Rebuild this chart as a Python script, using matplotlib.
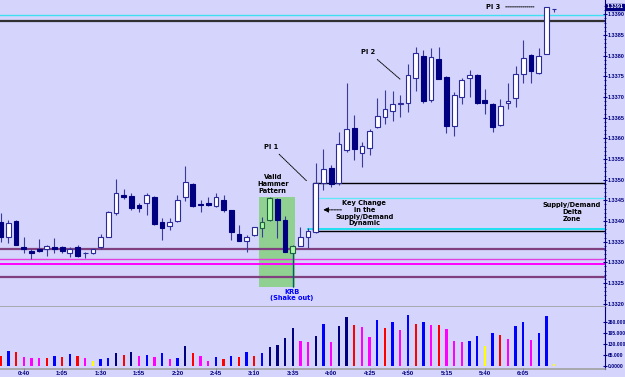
import numpy as np
import matplotlib
matplotlib.use("Agg")
import matplotlib.pyplot as plt
import matplotlib.transforms as mtransforms
from matplotlib.patches import Rectangle

# 5 minute bars, 0:25 .. 6:25
start_minute = 25
n_bars = 73
bar_times = ["{}:{:02d}".format((start_minute + 5 * i) // 60, (start_minute + 5 * i) % 60) for i in range(n_bars)]
tick_labels = ["0:40", "1:05", "1:30", "1:55", "2:20", "2:45", "3:10", "3:35",
               "4:00", "4:25", "4:50", "5:15", "5:40", "6:05"]

opens = [
    1.33397, 1.33362, 1.33400, 1.33336, 1.33327, 1.33332, 1.33333, 1.33336, 1.33336, 1.33322,
    1.33336, 1.33322, 1.33322, 1.33338, 1.33362, 1.33420, 1.33463, 1.33460, 1.33439, 1.33443,
    1.33458, 1.33397, 1.33388, 1.33401, 1.33457, 1.33490, 1.33440, 1.33444, 1.33437, 1.33452,
    1.33427, 1.33368, 1.33352, 1.33365, 1.33382, 1.33402, 1.33453, 1.33402, 1.33322, 1.33340,
    1.33361, 1.33374, 1.33491, 1.33529, 1.33491, 1.33572, 1.33626, 1.33564, 1.33576, 1.33628,
    1.33651, 1.33667, 1.33683, 1.33685, 1.33745, 1.33799, 1.33693, 1.33791, 1.33749, 1.33630,
    1.33701, 1.33745, 1.33753, 1.33693, 1.33683, 1.33632, 1.33685, 1.33697, 1.33756, 1.33802,
    1.33759, 1.33804, 1.33912]
closes = [
    1.33362, 1.33396, 1.33342, 1.33332, 1.33322, 1.33327, 1.33340, 1.33333, 1.33327, 1.33332,
    1.33316, 1.33323, 1.33332, 1.33362, 1.33423, 1.33468, 1.33457, 1.33432, 1.33432, 1.33463,
    1.33392, 1.33382, 1.33397, 1.33452, 1.33494, 1.33437, 1.33439, 1.33439, 1.33457, 1.33427,
    1.33373, 1.33352, 1.33361, 1.33385, 1.33398, 1.33456, 1.33402, 1.33326, 1.33340, 1.33362,
    1.33376, 1.33491, 1.33525, 1.33490, 1.33586, 1.33622, 1.33573, 1.33582, 1.33618, 1.33654,
    1.33672, 1.33683, 1.33685, 1.33753, 1.33806, 1.33691, 1.33797, 1.33743, 1.33630, 1.33706,
    1.33741, 1.33753, 1.33685, 1.33685, 1.33628, 1.33679, 1.33691, 1.33755, 1.33794, 1.33764,
    1.33800, 1.33917, 1.33912]
highs = [
    1.33419, 1.33402, 1.33402, 1.33362, 1.33332, 1.33357, 1.33342, 1.33358, 1.33339, 1.33338,
    1.33341, 1.33324, 1.33333, 1.33368, 1.33424, 1.33502, 1.33477, 1.33467, 1.33444, 1.33467,
    1.33460, 1.33407, 1.33407, 1.33463, 1.33534, 1.33492, 1.33452, 1.33457, 1.33468, 1.33464,
    1.33427, 1.33390, 1.33366, 1.33385, 1.33410, 1.33457, 1.33455, 1.33413, 1.33342, 1.33385,
    1.33382, 1.33540, 1.33573, 1.33535, 1.33616, 1.33735, 1.33656, 1.33592, 1.33622, 1.33697,
    1.33717, 1.33714, 1.33705, 1.33779, 1.33822, 1.33814, 1.33818, 1.33822, 1.33750, 1.33713,
    1.33747, 1.33765, 1.33755, 1.33719, 1.33685, 1.33694, 1.33733, 1.33776, 1.33838, 1.33803,
    1.33818, 1.33918, 1.33912]
lows = [
    1.33350, 1.33348, 1.33342, 1.33323, 1.33307, 1.33325, 1.33315, 1.33323, 1.33323, 1.33312,
    1.33312, 1.33310, 1.33321, 1.33332, 1.33361, 1.33414, 1.33453, 1.33427, 1.33421, 1.33414,
    1.33390, 1.33354, 1.33378, 1.33397, 1.33449, 1.33435, 1.33423, 1.33437, 1.33435, 1.33423,
    1.33354, 1.33352, 1.33326, 1.33364, 1.33361, 1.33401, 1.33358, 1.33325, 1.33241, 1.33339,
    1.33334, 1.33370, 1.33475, 1.33483, 1.33487, 1.33568, 1.33548, 1.33531, 1.33560, 1.33624,
    1.33635, 1.33643, 1.33651, 1.33664, 1.33715, 1.33685, 1.33689, 1.33743, 1.33612, 1.33606,
    1.33682, 1.33701, 1.33683, 1.33659, 1.33616, 1.33630, 1.33670, 1.33675, 1.33735, 1.33735,
    1.33756, 1.33803, 1.33905]

volumes = [
    61, 89, 83, 53, 49, 45, 45, 61, 53, 69,
    59, 45, 30, 39, 49, 79, 67, 81, 59, 65,
    53, 79, 43, 45, 118, 79, 61, 31, 55, 39,
    59, 53, 83, 61, 75, 112, 126, 165, 226, 148,
    144, 177, 248, 144, 236, 288, 242, 232, 169, 272,
    226, 260, 215, 303, 246, 260, 242, 242, 219, 146,
    142, 148, 177, 116, 193, 181, 160, 238, 260, 154,
    193, 295, 12]
vol_codes = ("RBRMMMRBRB" "RMYBBNRNMB" "MBMBNRMMBR" "BRBRBNNNNM"
             "MNBMNNRMMB" "RBMBRBMRMM" "MBBYBRMBBM" "BBY")
vol_palette = {"R": "#ff0000", "B": "#0000ff", "N": "#000080", "M": "#ff00ff", "Y": "#ffff00"}

# levels drawn across the whole chart
full_levels = [1.33898, 1.33883, 1.33332, 1.33307, 1.33295, 1.33264]
full_colors = ["#40e0f0", "#303030", "#804080", "#e040e0", "#ff00ff", "#804080"]
full_widths = [1.0, 1.6, 1.6, 1.0, 1.4, 1.6]

# supply/demand delta zone
zone_top = 1.33491
zone_bottom = 1.33375
zone_inner = [1.33456, 1.33381]
zone_start = 40.64
hammer_bars = (34, 38)
hammer_low, hammer_high = 1.33241, 1.33457
last_price_label = "1.3391"
price_ticks = np.arange(1.3320, 1.33901, 0.0005)
vol_ticks = [0, 65, 130, 195, 260]
vol_tick_labels = ["0.0000", "65.000", "130.000", "195.000", "260.000"]

BG = "#d4d4fc"
NAVY = "#000080"
AXFONT = "Liberation Sans"

fig = plt.figure(figsize=(6.25, 3.77), dpi=100)
fig.patch.set_facecolor(BG)
ax = fig.add_axes([0, 1 - 307 / 377, 605 / 625, 307 / 377])
axv = fig.add_axes([0, 1 - 369 / 377, 605 / 625, 62 / 377], sharex=ax)
for a in (ax, axv):
    a.set_facecolor(BG)
    a.spines["left"].set_visible(False)
    a.spines["top"].set_visible(False)
    a.spines["right"].set_color(NAVY)
    a.spines["bottom"].set_color("#a0a0a0")
    a.spines["bottom"].set_linewidth(1.2)

x = np.arange(n_bars)
xmax = 78.63
ax.set_xlim(-0.09, xmax)
ax.set_ylim(1.33192, 1.339346)

# hammer highlight box
ax.add_patch(Rectangle((hammer_bars[0] - 0.35, hammer_low), hammer_bars[1] - hammer_bars[0] + 0.7,
                       hammer_high - hammer_low, facecolor="#90d090", edgecolor="none", zorder=1))

for lvl, c, lw in zip(full_levels, full_colors, full_widths):
    ax.axhline(lvl, color=c, lw=lw, zorder=2)

ax.hlines(zone_inner[0], zone_start + 0.6, xmax, color="#60e8f8", lw=0.9, zorder=2)
ax.hlines(zone_inner[1], zone_start - 0.8, xmax, color="#20e0f0", lw=1.4, zorder=2)
ax.hlines([zone_top, zone_bottom], zone_start, xmax, color="black", lw=1.0, zorder=3)
ax.vlines(zone_start, zone_bottom, zone_top, color="black", lw=1.0, zorder=3)

# candles
o = np.array(opens)
c = np.array(closes)
up = c >= o
in_box = (x >= hammer_bars[0]) & (x <= hammer_bars[1])
ax.vlines(x, lows, highs, color="#3a3a9a", lw=0.8, zorder=4)
body_bottom = np.minimum(o, c)
body_height = np.maximum(np.abs(c - o), 0.000015)
face = np.where(up, np.where(in_box, "#a8f8a8", "white"), NAVY)
edge = np.where(up, np.where(in_box, "#206040", "#2a2a9a"), NAVY)
ax.bar(x, body_height, bottom=body_bottom, width=0.62, color=face, edgecolor=edge,
       linewidth=0.8, zorder=5)
# the KRB tail
ax.vlines(hammer_bars[1], lows[hammer_bars[1]], body_bottom[hammer_bars[1]], color="#006060", lw=0.9, zorder=6)

# price axis
ax.yaxis.tick_right()
ax.set_yticks(price_ticks)
ax.set_yticklabels(["{:.4f}".format(v) for v in price_ticks])
ax.set_yticks(np.arange(1.3320, 1.3393, 0.0001), minor=True)
ax.tick_params(axis="y", which="major", direction="inout", length=3, width=0.8, color=NAVY,
               labelcolor=NAVY, labelsize=4.0, pad=0.5)
ax.tick_params(axis="y", which="minor", direction="inout", length=1.6, width=0.6, color=NAVY)
ax.tick_params(axis="x", which="both", bottom=False, labelbottom=False)
trans = mtransforms.blended_transform_factory(ax.transAxes, ax.transData)
ax.text(1.003, closes[-1] + 0.00006, last_price_label, transform=trans, fontsize=4.0, color="white",
        fontweight="bold", family=AXFONT, va="center", ha="left",
        bbox=dict(boxstyle="square,pad=0.12", facecolor=NAVY, edgecolor=NAVY))

# annotations
txt = dict(fontsize=4.8, fontweight="bold", color="black", ha="center", va="center", zorder=8)
dotted = dict(arrowstyle="-", linestyle=(0, (1, 1)), color="black", lw=0.7)
ax.annotate("PI 1", xy=(40.03, 1.33493), xytext=(35.2, 1.33580), arrowprops=dotted, **txt)
ax.annotate("PI 2", xy=(52.22, 1.33739), xytext=(47.86, 1.33809), arrowprops=dotted, **txt)
ax.annotate("PI 3", xy=(69.78, 1.33918), xytext=(64.06, 1.33918), arrowprops=dotted, **txt)
ax.text(35.4, 1.33490, "Valid\nHammer\nPattern", linespacing=1.15, **txt)
ax.text(47.3, 1.33419, "Key Change\nin the\nSupply/Demand\nDynamic", linespacing=1.15, **txt)
ax.text(74.34, 1.33422, "Supply/Demand\nDelta\nZone", linespacing=1.15, **txt)
ax.text(37.9, 1.33221, "KRB\n(Shake out)", fontsize=4.8, fontweight="bold", color="#0000ff",
        ha="center", va="center", linespacing=1.15, zorder=8)
ax.annotate("", xy=(41.6, 1.33427), xytext=(44.7, 1.33427),
            arrowprops=dict(arrowstyle="-|>,head_length=0.3,head_width=0.15", linestyle=(0, (2, 1)),
                            color="black", lw=0.7))

# volume panel
axv.set_ylim(-17.7, 348.6)
axv.bar(x, volumes, width=0.3, color=[vol_palette[k] for k in vol_codes], zorder=3)
axv.yaxis.tick_right()
axv.set_yticks(vol_ticks)
axv.set_yticklabels(vol_tick_labels)
axv.tick_params(axis="y", direction="inout", length=3, width=0.8, color=NAVY, labelcolor=NAVY,
                labelsize=3.6, pad=0.5)
tick_pos = [bar_times.index(t) for t in tick_labels]
axv.set_xticks(tick_pos)
axv.set_xticklabels(tick_labels)
axv.tick_params(axis="x", direction="inout", length=2, width=0.6, color=NAVY, labelcolor=NAVY,
                labelsize=4.4, pad=0.3)
for lab in axv.get_xticklabels() + axv.get_yticklabels() + ax.get_yticklabels():
    lab.set_fontweight("bold")
    lab.set_family(AXFONT)

fig.savefig("out.png", dpi=100, facecolor=BG)
